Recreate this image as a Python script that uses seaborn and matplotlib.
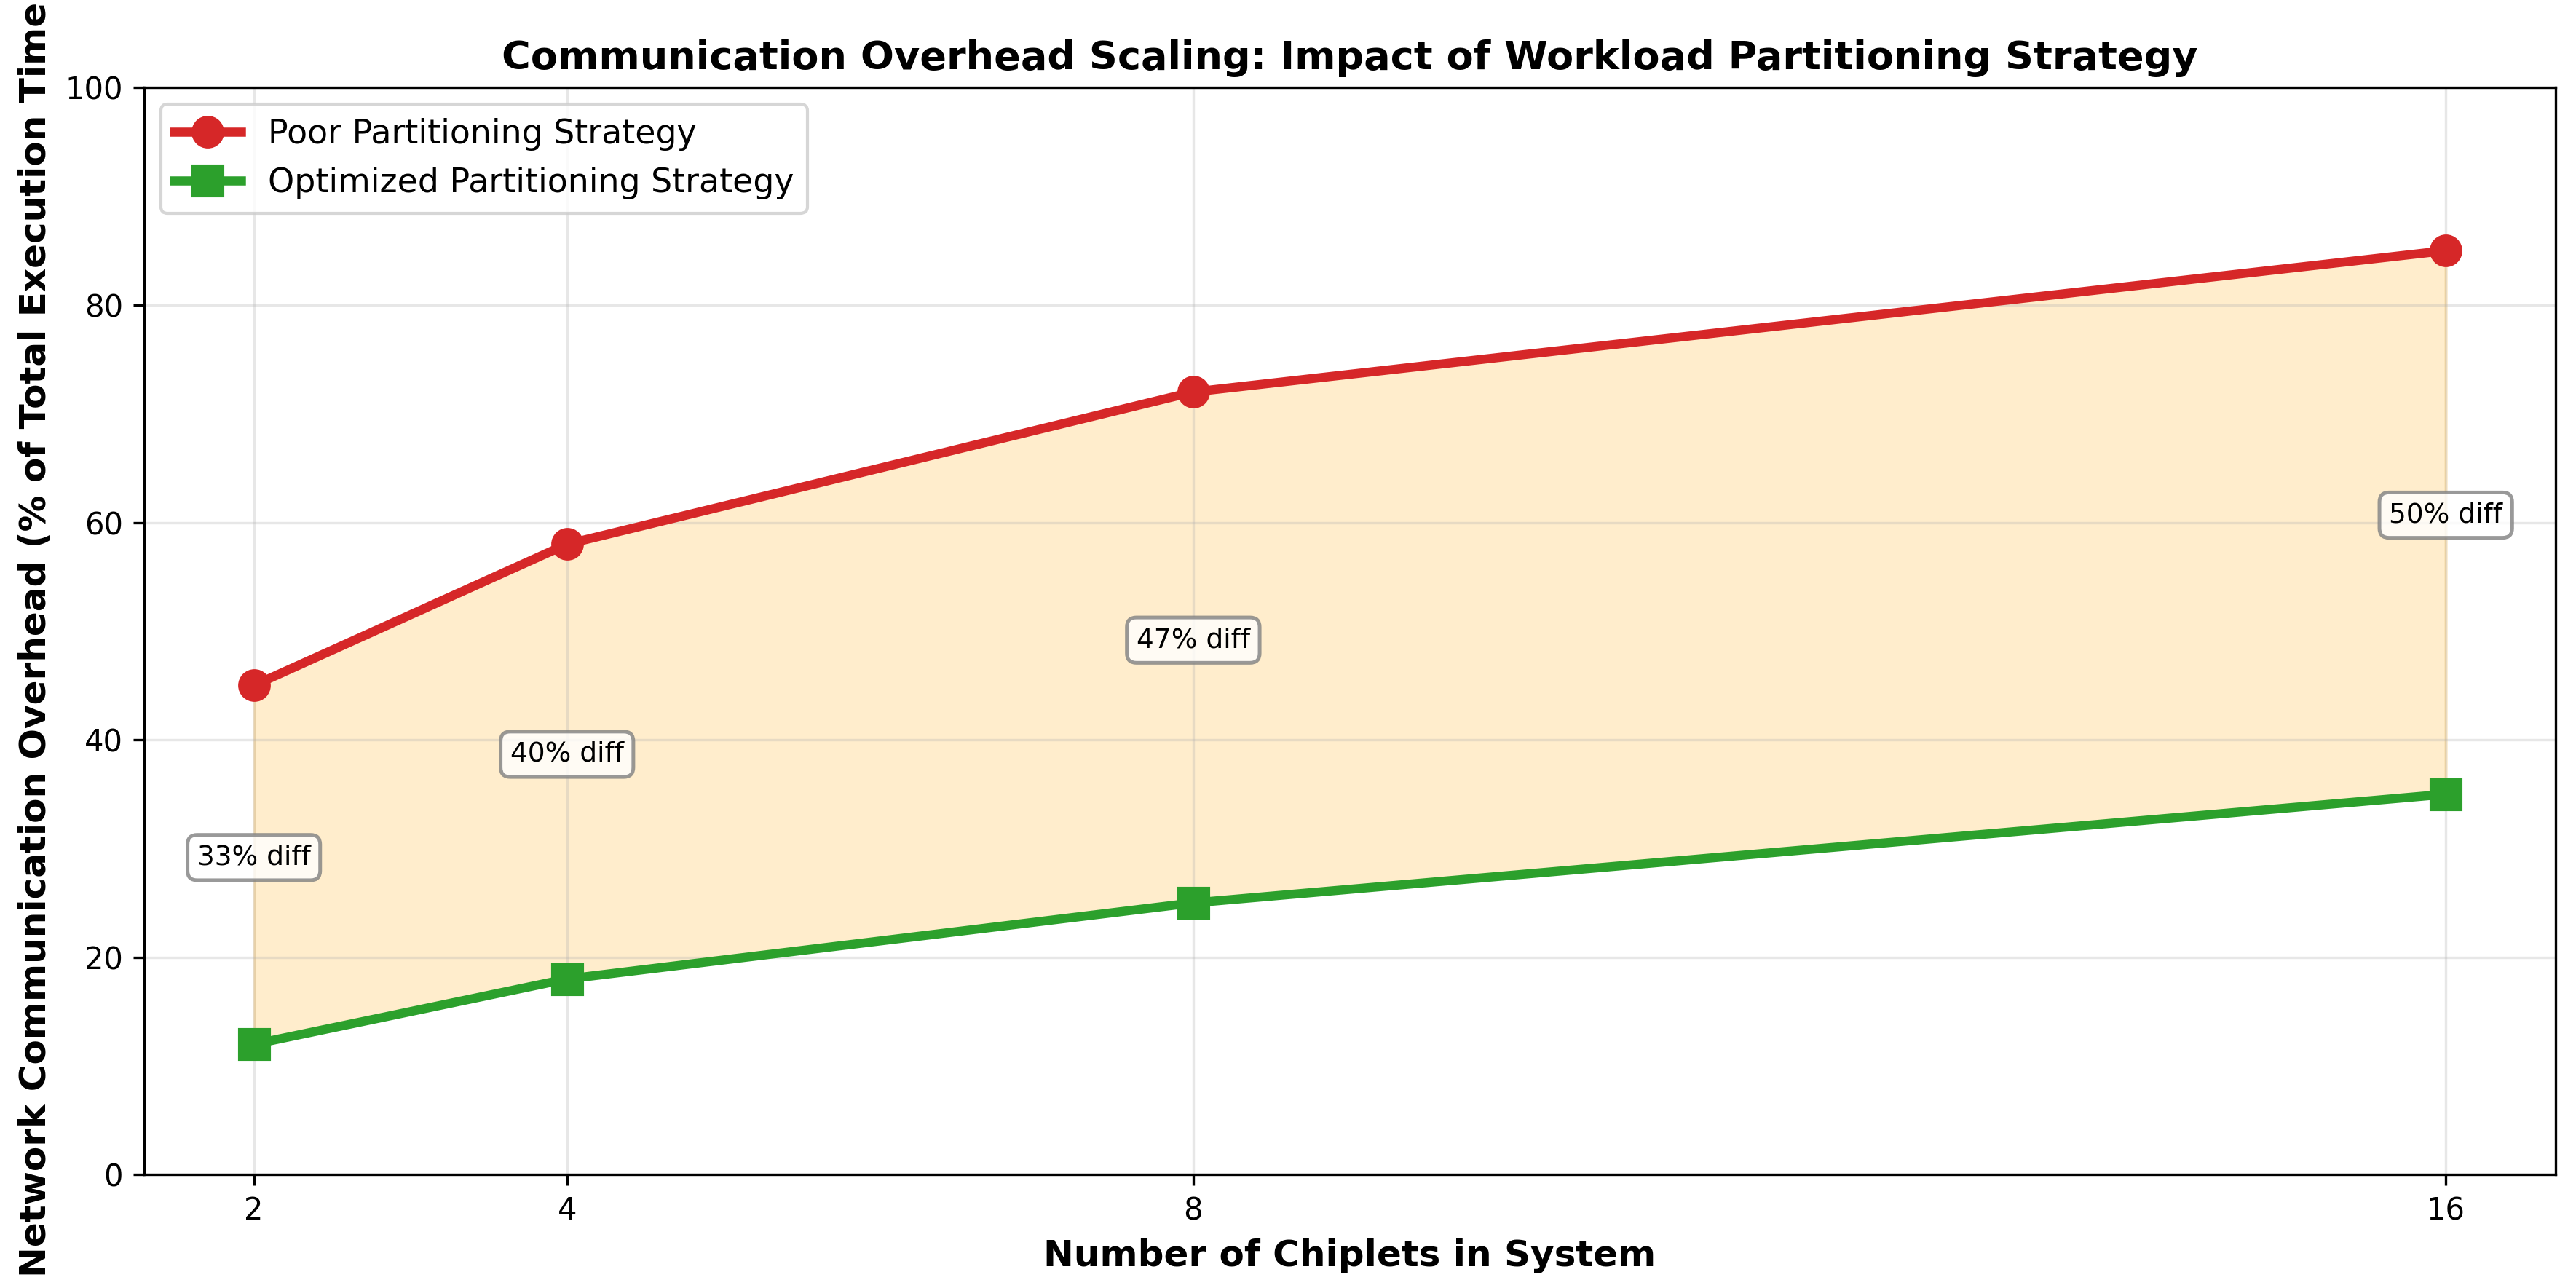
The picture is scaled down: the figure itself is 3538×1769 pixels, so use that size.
import numpy as np
import pandas as pd
import seaborn as sns
import matplotlib.pyplot as plt


# data
chiplets = [2, 4, 8, 16]
poor_overhead = [45, 58, 72, 85]
optimized_overhead = [12, 18, 25, 35]
diff_labels = ['33% diff', '40% diff', '47% diff', '50% diff']

df = pd.DataFrame({
    'Chiplets': chiplets * 2,
    'Overhead': poor_overhead + optimized_overhead,
    'Strategy': ['Poor Partitioning Strategy'] * 4 + ['Optimized Partitioning Strategy'] * 4,
})

plt.rcParams['font.family'] = ['DejaVu Sans']

fig, ax = plt.subplots(figsize=(3538 / 300, 1769 / 300), dpi=300)

sns.lineplot(data=df, x='Chiplets', y='Overhead', hue='Strategy', style='Strategy',
             palette=['#d62728', '#2ca02c'], markers=['o', 's'], dashes=False,
             linewidth=3, markersize=10, ax=ax)

ax.fill_between(chiplets, optimized_overhead, poor_overhead, color='orange', alpha=0.2)

for x, lo, hi, lab in zip(chiplets, optimized_overhead, poor_overhead, diff_labels):
    ax.annotate(lab, xy=(x, (lo + hi) / 2), xytext=(0, 2.4), textcoords='offset points',
                ha='center', va='center', fontsize=9,
                bbox=dict(boxstyle='round,pad=0.35', facecolor='white', edgecolor='gray',
                          linewidth=1.2, alpha=0.8))

ax.set_xticks(chiplets)
ax.set_ylim(0, 100)
ax.grid(True, alpha=0.3)
ax.tick_params(labelsize=10)

ax.set_xlabel('Number of Chiplets in System', fontsize=12, fontweight='bold')
ax.set_ylabel('Network Communication Overhead (% of Total Execution Time)', fontsize=12, fontweight='bold')
ax.set_title('Communication Overhead Scaling: Impact of Workload Partitioning Strategy',
             fontsize=13, fontweight='bold')
leg = ax.legend(loc='upper left', fontsize=11, title=None)

# same-colour marker edges like plain matplotlib
for line in list(ax.lines) + list(leg.get_lines()):
    line.set_markeredgecolor(line.get_color())

plt.subplots_adjust(left=0.056, right=0.992, top=0.932, bottom=0.088)
plt.savefig('out.png', dpi=300)
